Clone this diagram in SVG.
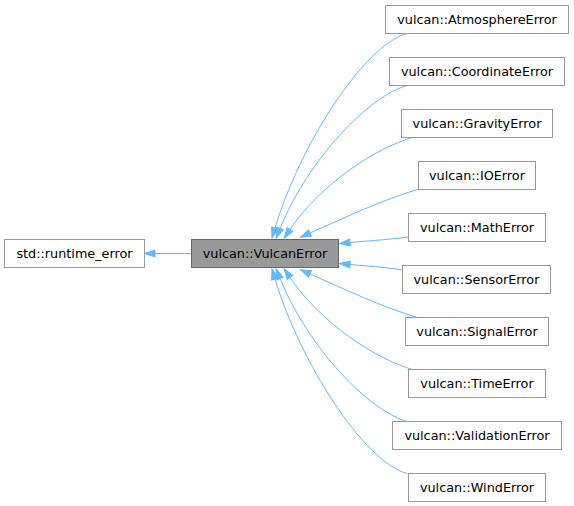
<svg xmlns="http://www.w3.org/2000/svg" width="574" height="506" viewBox="0 0 574 506">
<style>
.n rect{fill:#ffffff;stroke:#999999;stroke-width:1}
.n.h rect{fill:#999999;stroke:#666666}
.n text{font-family:"DejaVu Sans","Liberation Sans",sans-serif;font-size:12.8px;fill:#000000;text-anchor:middle}
#edges path{fill:none;stroke:#63b8ff;stroke-width:1;marker-end:url(#ah)}
</style>
<defs>
<marker id="ah" markerUnits="userSpaceOnUse" markerWidth="12" markerHeight="10" refX="0" refY="0" orient="auto" overflow="visible">
<path d="M0,-3.5 L10.5,0 L0,3.5 Z" fill="#63b8ff" stroke="#63b8ff" stroke-width="1"/>
</marker>
</defs>
<rect width="574" height="506" fill="#ffffff"/>
<g id="edges">
<path d="M191.5,253.5 L155,253.5"/>
<path d="M407,33.5 C364,45 300,145 275,228"/>
<path d="M409,85 C369,95 308,160 280,228.5"/>
<path d="M414,137 C375,148 320,185 290,229.5"/>
<path d="M419,189 C382,200 344,218 310,233"/>
<path d="M408.5,237 C385,240 365,241 350,242.5"/>
<path d="M402.5,270 C385,267 365,266 350,264.5"/>
<path d="M419,318 C382,307 344,289 310,274"/>
<path d="M414,370 C375,359 320,322 290,277.5"/>
<path d="M409,422 C369,412 308,347 280,278.5"/>
<path d="M407,473.5 C364,462 300,362 275,279"/>
</g>
<g id="runtime_error" class="n"><rect x="4.5" y="239.5" width="140" height="28"/><text x="74.5" y="258">std::runtime_error</text></g>
<g id="VulcanError" class="n h"><rect x="191.5" y="239.5" width="147" height="28"/><text x="265" y="258">vulcan::VulcanError</text></g>
<g id="AtmosphereError" class="n"><rect x="385.5" y="5.5" width="183" height="28"/><text x="477" y="24">vulcan::AtmosphereError</text></g>
<g id="CoordinateError" class="n"><rect x="389.5" y="57.5" width="175" height="28"/><text x="477" y="76">vulcan::CoordinateError</text></g>
<g id="GravityError" class="n"><rect x="401.5" y="109.5" width="151" height="28"/><text x="477" y="128">vulcan::GravityError</text></g>
<g id="IOError" class="n"><rect x="418.5" y="161.5" width="117" height="28"/><text x="477" y="180">vulcan::IOError</text></g>
<g id="MathError" class="n"><rect x="408.5" y="213.5" width="137" height="28"/><text x="477" y="232">vulcan::MathError</text></g>
<g id="SensorError" class="n"><rect x="402.5" y="265.5" width="148" height="28"/><text x="476.5" y="284">vulcan::SensorError</text></g>
<g id="SignalError" class="n"><rect x="405.5" y="317.5" width="143" height="28"/><text x="477" y="336">vulcan::SignalError</text></g>
<g id="TimeError" class="n"><rect x="408.5" y="369.5" width="137" height="28"/><text x="477" y="388">vulcan::TimeError</text></g>
<g id="ValidationError" class="n"><rect x="392.5" y="421.5" width="169" height="28"/><text x="477" y="440">vulcan::ValidationError</text></g>
<g id="WindError" class="n"><rect x="408.5" y="473.5" width="137" height="28"/><text x="477" y="492">vulcan::WindError</text></g>
</svg>
